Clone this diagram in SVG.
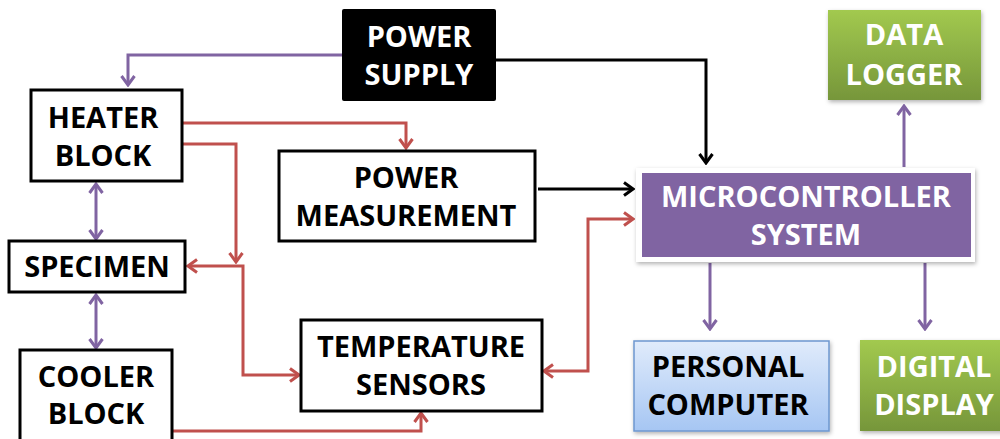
<svg xmlns="http://www.w3.org/2000/svg" width="1000" height="439" viewBox="0 0 1000 439">
<defs>
<style>
.t{font-family:"Open Sans","Liberation Sans",sans-serif;font-weight:bold;font-size:29px;text-anchor:middle}
.w{fill:#fff}
.k{fill:#000}
.box{fill:#fff;stroke:#000;stroke-width:3}
.c{fill:none;stroke-width:3;stroke-linejoin:miter}
.p{stroke:#8064A2}
.r{stroke:#C0504D}
.b{stroke:#000}
</style>
<linearGradient id="green" x1="0" y1="0" x2="0" y2="1">
<stop offset="0" stop-color="#A2C94F"/>
<stop offset="1" stop-color="#76963A"/>
</linearGradient>
<linearGradient id="blue" x1="0" y1="0" x2="0" y2="1">
<stop offset="0" stop-color="#E0EBFB"/>
<stop offset="1" stop-color="#A6C6F3"/>
</linearGradient>
<filter id="sh" x="-10%" y="-10%" width="120%" height="130%">
<feDropShadow dx="1" dy="2" stdDeviation="2" flood-color="#000" flood-opacity="0.3"/>
</filter>
<marker id="ap" viewBox="0 0 14 16" refX="12" refY="8" markerWidth="14" markerHeight="16" markerUnits="userSpaceOnUse" orient="auto-start-reverse">
<path d="M3,1.5 L12,8 L3,14.5" fill="none" stroke="#8064A2" stroke-width="3"/>
</marker>
<marker id="ar" viewBox="0 0 14 16" refX="12" refY="8" markerWidth="14" markerHeight="16" markerUnits="userSpaceOnUse" orient="auto-start-reverse">
<path d="M3,1.5 L12,8 L3,14.5" fill="none" stroke="#C0504D" stroke-width="3"/>
</marker>
<marker id="ab" viewBox="0 0 14 16" refX="12" refY="8" markerWidth="14" markerHeight="16" markerUnits="userSpaceOnUse" orient="auto-start-reverse">
<path d="M3,1.5 L12,8 L3,14.5" fill="none" stroke="#000" stroke-width="3"/>
</marker>
</defs>
<rect width="1000" height="439" fill="#fff"/>

<g id="connectors">
<path class="c p" d="M342,55 H128 V85" marker-end="url(#ap)"/>
<path class="c b" d="M496,60 H706 V163" marker-end="url(#ab)"/>
<path class="c b" d="M538,189 H633" marker-end="url(#ab)"/>
<path class="c r" d="M183,123 H406 V148" marker-end="url(#ar)"/>
<path class="c r" d="M183,144 H236 V262" marker-end="url(#ar)"/>
<path class="c r" d="M188,266 H243 V375 H299" marker-start="url(#ar)" marker-end="url(#ar)"/>
<path class="c r" d="M172,431 H421 V413" marker-end="url(#ar)"/>
<path class="c r" d="M544,371 H588 V219 H633" marker-start="url(#ar)" marker-end="url(#ar)"/>
<path class="c p" d="M96,184 V239" marker-start="url(#ap)" marker-end="url(#ap)"/>
<path class="c p" d="M96,295 V348" marker-start="url(#ap)" marker-end="url(#ap)"/>
<path class="c p" d="M904,167 V106" marker-end="url(#ap)"/>
<path class="c p" d="M710,263 V329" marker-end="url(#ap)"/>
<path class="c p" d="M925,263 V329" marker-end="url(#ap)"/>
</g>

<g id="power-supply">
<rect x="342" y="9" width="154" height="92" rx="2" fill="#000"/>
<text class="t w" x="419" y="47">POWER</text>
<text class="t w" x="419" y="85">SUPPLY</text>
</g>

<g id="heater-block">
<rect class="box" x="31" y="90" width="151" height="91"/>
<text class="t k" x="103" y="128">HEATER</text>
<text class="t k" x="103" y="166">BLOCK</text>
</g>

<g id="power-measurement">
<rect class="box" x="279" y="151" width="256" height="90"/>
<text class="t k" x="406" y="188">POWER</text>
<text class="t k" x="406" y="226">MEASUREMENT</text>
</g>

<g id="specimen">
<rect class="box" x="9" y="241" width="176" height="51"/>
<text class="t k" x="97" y="277">SPECIMEN</text>
</g>

<g id="cooler-block">
<rect class="box" x="20" y="350" width="152" height="100"/>
<text class="t k" x="96" y="387">COOLER</text>
<text class="t k" x="96" y="424">BLOCK</text>
</g>

<g id="temperature-sensors">
<rect class="box" x="301" y="320" width="241" height="91"/>
<text class="t k" x="421" y="357">TEMPERATURE</text>
<text class="t k" x="421" y="395">SENSORS</text>
</g>

<g id="microcontroller-system">
<rect x="636" y="168" width="339" height="94" fill="#fff" filter="url(#sh)"/>
<rect x="642" y="173" width="329" height="84" fill="#8064A2"/>
<text class="t w" x="806" y="207">MICROCONTROLLER</text>
<text class="t w" x="806" y="245">SYSTEM</text>
</g>

<g id="data-logger">
<rect x="828" y="10" width="153" height="90" fill="url(#green)" filter="url(#sh)"/>
<text class="t w" x="904" y="45">DATA</text>
<text class="t w" x="904" y="85">LOGGER</text>
</g>

<g id="personal-computer">
<rect x="634" y="341" width="195" height="90" fill="url(#blue)" stroke="#6D97CF" stroke-width="1.5" filter="url(#sh)"/>
<text class="t k" x="728" y="377">PERSONAL</text>
<text class="t k" x="728" y="415">COMPUTER</text>
</g>

<g id="digital-display">
<rect x="860" y="340" width="145" height="91" fill="url(#green)" filter="url(#sh)"/>
<text class="t w" x="934" y="377">DIGITAL</text>
<text class="t w" x="934" y="415">DISPLAY</text>
</g>
</svg>
